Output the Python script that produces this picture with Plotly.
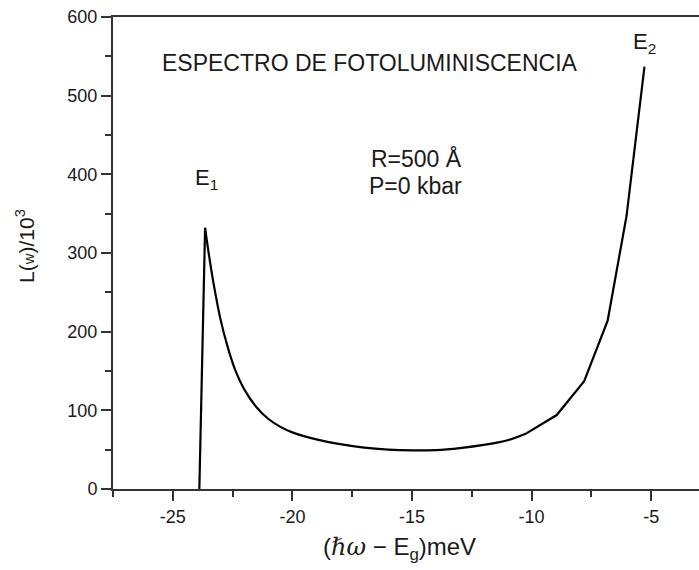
import plotly.graph_objects as go

# Photoluminescence spectrum
energy_mev = [-23.89, -23.65, -23.50, -23.30, -23.00, -22.70, -22.40, -22.00,
              -21.50, -21.00, -20.50, -20.00, -19.00, -18.00, -17.00, -16.00,
              -15.00, -14.00, -13.00, -12.00, -11.00, -10.20, -8.95, -7.80,
              -6.82, -6.03, -5.28]
lum = [0, 332, 300, 262, 215, 180, 152, 126,
       104, 89, 79, 72, 63, 57, 52.5, 50,
       49, 49.5, 52, 56, 62, 71, 94, 137,
       214, 347, 537]

x_ticks = [-25, -20, -15, -10, -5]
y_ticks = [0, 100, 200, 300, 400, 500, 600]

FONT = "Liberation Sans, Arial, sans-serif"
INK = "#1a1a1a"

peak = lum.index(max(lum[:10]))
split = energy_mev.index(-10.20)

fig = go.Figure()
segments = [
    (0, peak, "linear"),          # sharp onset at E1
    (peak, split, "spline"),      # smooth tail
    (split, len(lum) - 1, "linear"),  # coarse points rising to E2
]
for a, b, shape in segments:
    fig.add_trace(go.Scatter(x=energy_mev[a:b + 1], y=lum[a:b + 1], mode="lines",
                             line=dict(color="black", width=2.2, shape=shape,
                                       **({"smoothing": 0.9} if shape == "spline" else {})),
                             showlegend=False, hoverinfo="skip"))

fig.update_layout(
    width=699, height=570,
    margin=dict(l=113, r=0, t=17, b=81),
    paper_bgcolor="white", plot_bgcolor="white",
    font=dict(family=FONT, color=INK, size=18),
)
fig.update_xaxes(range=[-27.5, -3.0], tickvals=x_ticks, ticktext=[str(v) for v in x_ticks],
                 showgrid=False, zeroline=False, showline=True, linecolor="#333", linewidth=2,
                 mirror=True, ticks="outside", ticklen=10, tickwidth=2, tickcolor="#333",
                 tickfont=dict(size=18, family=FONT, color=INK),
                 minor=dict(dtick=2.5, tick0=-27.5, ticks="outside", ticklen=6, tickwidth=2, tickcolor="#333"))
fig.update_yaxes(range=[0, 600], tickvals=y_ticks, ticktext=[str(v) for v in y_ticks],
                 showgrid=False, zeroline=False, showline=True, linecolor="#333", linewidth=2,
                 ticks="outside", ticklen=10, tickwidth=2, tickcolor="#333",
                 tickfont=dict(size=18, family=FONT, color=INK),
                 minor=dict(dtick=50, ticks="outside", ticklen=6, tickwidth=2, tickcolor="#333"))

def px(xp): return (xp - 113) / (699 - 113)
def py(yp): return (489 - yp) / (489 - 17)

def note(text, xp, yp, size=22, **kw):
    fig.add_annotation(text=text, x=px(xp), y=py(yp), xref="paper", yref="paper",
                       xanchor="center", yanchor="middle", showarrow=False,
                       font=dict(size=size, family=FONT, color=INK), **kw)

note("ESPECTRO DE FOTOLUMINISCENCIA", 370, 63, size=23)
note("E<sub>1</sub>", 206, 179, size=22)
note("E<sub>2</sub>", 644, 43, size=22)
note("R=500 Å", 417, 158, size=23)
note("P=0 kbar", 415, 186, size=23)
note("L(<span style='font-size:15px'>w</span>)/10<sup>3</sup>", 25, 246, size=21, textangle=-90)
note("(<span style='font-family:DejaVu Serif;font-style:italic'>ℏω</span> − E<sub>g</sub>)meV",
     399, 548, size=24)

fig.write_html("out.html")
